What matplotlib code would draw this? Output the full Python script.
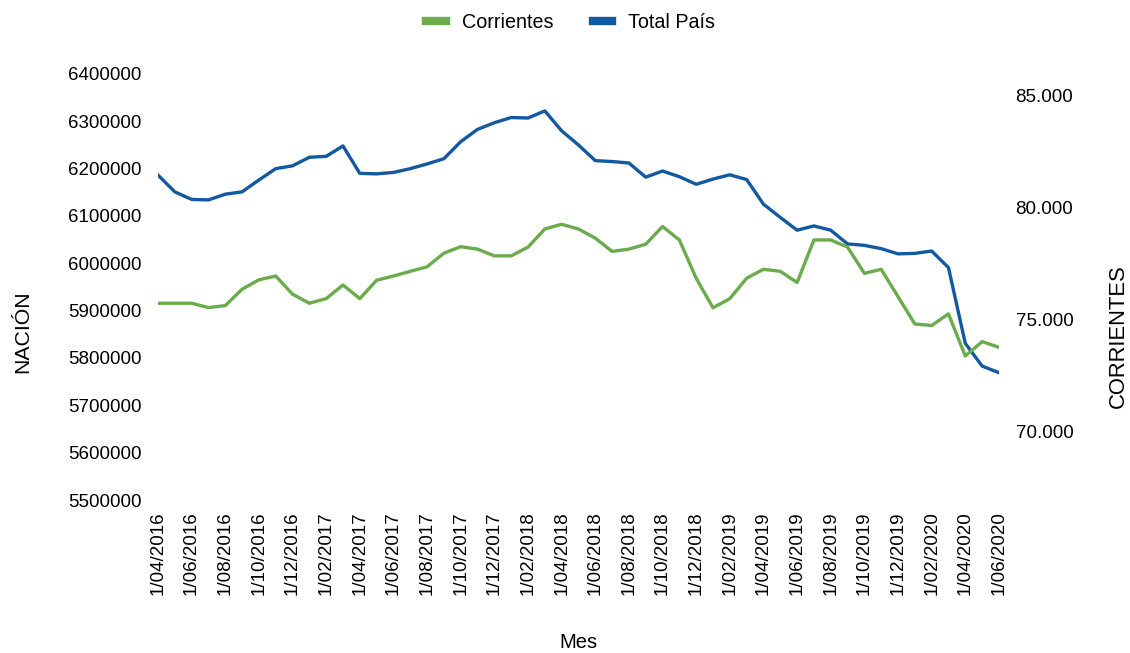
import matplotlib
matplotlib.use('Agg')
import matplotlib.pyplot as plt
from matplotlib.ticker import FuncFormatter

plt.rcParams['font.family'] = ['Liberation Sans', 'DejaVu Sans']

# meses (abril 2016 - junio 2020)
months = []
for year in range(2016, 2021):
  for m in range(1, 13):
    if (year == 2016 and m < 4) or (year == 2020 and m > 6):
      continue
    months.append('1/%02d/%d' % (m, year))

# Total País (eje izquierdo)
total_pais = [
  6186500, 6151000, 6135000, 6134000, 6146000, 6151000, 6176000, 6200000,
  6206000, 6224000, 6226000, 6248000, 6190000, 6189000, 6192000, 6200000,
  6210000, 6221000, 6257000, 6283000, 6297000, 6308000, 6307000, 6322000,
  6280000, 6250000, 6217000, 6215000, 6212000, 6182000, 6195000, 6183000,
  6167000, 6178000, 6187000, 6177000, 6125000, 6097000, 6070000, 6079000,
  6070000, 6041000, 6038000, 6031000, 6020000, 6021000, 6026000, 5991000,
  5831000, 5783000, 5769000,
]

# Corrientes (eje derecho)
corrientes = [
  75745, 75745, 75745, 75550, 75640, 76370, 76790, 76960,
  76150, 75745, 75950, 76560, 75950, 76770, 76960, 77170,
  77370, 77980, 78270, 78160, 77860, 77860, 78250, 79060,
  79270, 79060, 78650, 78060, 78160, 78380, 79170, 78570,
  76860, 75540, 75950, 76860, 77260, 77170, 76670, 78570,
  78570, 78250, 77080, 77260, 76040, 74820, 74750, 75270,
  73390, 74030, 73780,
]

GREEN = '#6aab4c'
BLUE = '#12599f'
FS = 13.5

fig = plt.figure(figsize=(11.3, 6.53), dpi=100)
ax = fig.add_axes([0.1398, 0.2343, 0.7442, 0.6524])
ax2 = ax.twinx()

x = list(range(len(months)))
l2, = ax.plot(x, total_pais, color=BLUE, lw=2.4, label='Total País')
l1, = ax2.plot(x, corrientes, color=GREEN, lw=2.4, label='Corrientes')

ax.set_xlim(0, len(months) - 1)
ax.set_ylim(5500000, 6400000)
ax.set_yticks(range(5500000, 6400001, 100000))
ax.yaxis.set_major_formatter(FuncFormatter(lambda v, p: '%d' % v))
ax2.set_ylim(66960, 85980)
ax2.set_yticks([70000, 75000, 80000, 85000])
ax2.yaxis.set_major_formatter(FuncFormatter(lambda v, p: '{:,.0f}'.format(v).replace(',', '.')))

ax.set_xticks(x[::2])
ax.set_xticklabels(months[::2], rotation=90)

for a in (ax, ax2):
  for s in a.spines.values():
    s.set_visible(False)
  a.tick_params(length=0, labelsize=FS, colors='black')
ax.tick_params(axis='y', pad=12)
ax.tick_params(axis='x', pad=8)
ax2.tick_params(axis='y', pad=12)

# títulos de ejes
fig.text(0.0204, 0.4916, 'NACIÓN', rotation=90, ha='center', va='center', fontsize=15.3)
fig.text(0.9894, 0.4855, 'CORRIENTES', rotation=90, ha='center', va='center', fontsize=15.8)
fig.text(0.5115, 0.0168, 'Mes', ha='center', va='center', fontsize=14.5)

fig.legend(handles=[l1, l2], loc='center', bbox_to_anchor=(0.505, 0.965), ncol=2,
           frameon=False, fontsize=14.2, handlelength=1.0, columnspacing=2.0,
           handletextpad=0.8)
for h in fig.legends[0].get_lines():
  h.set_linewidth(6)

fig.savefig('out.png', dpi=100)
